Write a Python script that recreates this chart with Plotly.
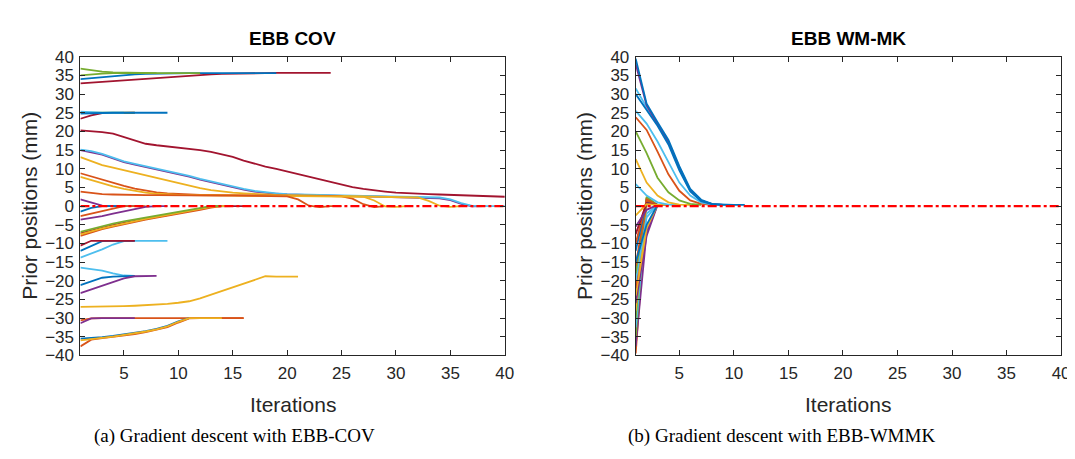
import plotly.graph_objects as go

# ---------------- DATA ----------------
# Panel (a): EBB COV - prior position trajectories (mm), iteration index starts at 1
cov_g_top = [36.8, 36.3, 36.0, 35.8, 35.7, 35.6, 35.6, 35.6, 35.6, 35.6, 35.6, 35.6]
cov_g_35 = [35.0, 35.3, 35.5, 35.6, 35.6, 35.6, 35.6, 35.6]
cov_b_34 = [34.0, 34.3, 34.6, 34.9, 35.1, 35.3, 35.4, 35.5, 35.6, 35.6, 35.6, 35.6, 35.6,
            35.6, 35.6, 35.6, 35.6, 35.6, 35.6]
cov_r_33 = [32.9, 33.1, 33.3, 33.5, 33.8, 34.0, 34.2, 34.4, 34.6, 34.7, 34.9, 35.1, 35.3,
            35.4, 35.5, 35.6, 35.7, 35.7, 35.7, 35.7, 35.7, 35.7, 35.7, 35.7]
cov_l_25 = [25.3, 25.1, 25.0, 25.0, 25.0]
cov_g_25 = [25.0, 25.0, 25.0, 25.0, 25.0, 25.0]
cov_r_23 = [23.4, 24.3, 24.9, 25.0, 25.0, 25.0]
cov_b_25 = [24.8, 24.9, 25.0, 25.0, 25.0, 25.0, 25.0, 25.0, 25.0]
cov_r_20 = [20.3, 20.1, 19.8, 19.4, 18.5, 17.4, 16.7, 16.3, 16.0, 15.7, 15.4, 15.0, 14.5,
            13.9, 13.2, 12.2, 11.3, 10.6, 10.0, 9.3, 8.6, 7.8, 7.1, 6.4, 5.7, 5.1, 4.6,
            4.2, 3.9, 3.6, 3.4, 3.3, 3.2, 3.1, 3.0, 2.9, 2.8, 2.7, 2.6, 2.5]
cov_p_15 = [15.0, 14.5, 13.8, 12.8, 11.8, 11.1, 10.5, 9.9, 9.3, 8.6, 7.9, 7.1, 6.4, 5.7,
            5.0, 4.4, 3.9, 3.5, 3.3, 3.1, 3.0, 2.9, 2.85, 2.8, 2.75, 2.7, 2.65, 2.6, 2.55,
            2.5, 2.45, 2.4, 2.3, 2.1, 1.6, 0.6, -0.1, 0.0]
cov_l_15 = [15.1, 14.7, 14.0, 13.0, 12.0, 11.3, 10.7, 10.1, 9.5, 8.8, 8.1, 7.3, 6.6, 5.9,
            5.2, 4.6, 4.1, 3.7, 3.4, 3.2, 3.1, 3.0, 2.95, 2.9, 2.85, 2.8, 2.75, 2.7, 2.65,
            2.6, 2.55, 2.5, 2.45, 2.3, 1.8, 0.8, 0.05, 0.0, 0.0, 0.0]
cov_y_13 = [13.1, 12.0, 11.0, 10.3, 9.6, 8.9, 8.2, 7.5, 6.8, 6.1, 5.4, 4.8, 4.3, 3.9, 3.6,
            3.4, 3.2, 3.1, 3.0, 2.95, 2.9, 2.85, 2.8, 2.8, 2.75, 2.75, 2.7, 2.7, 2.65,
            2.6, 2.5, 2.3, 1.4, 0.1, -0.2, 0.0]
cov_o_9 = [8.8, 7.9, 7.0, 6.1, 5.4, 4.7, 4.1, 3.7, 3.4, 3.2, 3.1, 3.0, 3.0, 2.95, 2.9,
           2.9, 2.85, 2.85, 2.8, 2.8, 2.75, 2.75, 2.7, 2.7, 2.6, 2.0, 0.5, -0.3, 0.0]
cov_y_8 = [7.8, 6.9, 6.1, 5.3, 4.6, 4.0, 3.6, 3.3, 3.1, 3.0, 2.95, 2.9, 2.9, 2.85, 2.85,
           2.8, 2.8, 2.75, 2.75, 2.7, 2.7, 2.7, 2.65, 2.65, 2.6, 2.6, 2.5, 1.5, -0.1,
           -0.2, 0.0]
cov_o_4 = [3.9, 3.5, 3.2, 3.1, 3.0, 3.0, 2.95, 2.95, 2.9, 2.9, 2.9, 2.85, 2.85, 2.8, 2.8,
           2.8, 2.75, 2.75, 2.7, 2.6, 1.8, 0.1, -0.3, 0.0, 0.0]
cov_p_2 = [1.8, 0.9, 0.1, 0.0, 0.0]
cov_b_m1 = [-1.5, -0.5, 0.0, 0.0, 0.0, 0.0]
cov_o_m2 = [-2.7, -2.0, -1.3, -0.5, 0.0, 0.0, 0.0]
cov_p_m4 = [-3.6, -3.2, -2.7, -2.0, -1.4, -0.8, -0.2, 0.0, 0.0]
cov_r_m7 = [-7.3, -6.5, -5.8, -5.1, -4.5, -3.9, -3.4, -2.9, -2.4, -1.9, -1.3, -0.7, -0.1,
            0.0, 0.0, 0.0]
cov_g_m7 = [-6.9, -6.1, -5.4, -4.7, -4.1, -3.6, -3.1, -2.6, -2.1, -1.6, -1.1, -0.5, 0.0,
            0.0]
cov_o_m8 = [-8.0, -7.0, -6.2, -5.5, -4.8, -4.2, -3.6, -3.1, -2.6, -2.1, -1.6, -1.0, -0.4,
            0.0]
cov_y_m8 = [-7.6, -6.7, -6.0, -5.3, -4.6, -4.0, -3.4, -2.9, -2.4, -1.9, -1.4, -0.8, -0.2,
            0.0, 0.0]
cov_l_m14 = [-13.8, -12.8, -11.6, -10.3, -9.4, -9.3, -9.3, -9.3, -9.3]
cov_b_m12 = [-12.0, -10.6, -9.4, -9.3, -9.3, -9.3]
cov_r_m10 = [-10.6, -9.3, -9.3, -9.3, -9.3, -9.3]
cov_l_m16 = [-16.5, -16.8, -17.3, -18.0, -18.6, -18.7]
cov_b_m21 = [-21.2, -20.1, -19.2, -18.9, -18.7, -18.7]
cov_p_m23 = [-23.3, -22.3, -21.3, -20.3, -19.4, -18.8, -18.7, -18.7]
cov_y_m27 = [-27.0, -27.0, -26.95, -26.9, -26.8, -26.7, -26.6, -26.4, -26.2, -25.9, -25.5,
             -24.7, -23.7, -22.8, -21.8, -20.8, -19.8, -18.8, -18.9, -18.9, -18.9]
cov_o_m30 = [-30.6, -30.1, -30.0, -30.0, -30.0, -30.0, -30.0, -30.0, -30.0, -30.0, -30.0,
             -30.0, -30.0, -30.0, -30.0, -30.0]
cov_p_m31 = [-31.4, -30.1, -30.0, -30.0, -30.0, -30.0]
cov_b_m35 = [-35.5, -35.4, -35.1, -34.8, -34.4, -34.0, -33.5, -32.9, -32.1, -30.9, -30.0]
cov_o_m37 = [-37.6, -35.8, -35.4, -35.1, -34.7, -34.3, -33.8, -33.2, -32.4, -31.2, -30.1,
             -30.0, -30.0, -30.0, -30.0, -30.0]
cov_y_m36 = [-36.0, -35.6, -35.3, -35.0, -34.6, -34.1, -33.6, -33.0, -32.2, -31.0, -30.0,
             -30.0, -30.0, -30.0]

# Panel (b): EBB WM-MK - prior position trajectories (mm)
wm_b_39 = [39.5, 27.4, 22.5, 17.7, 10.7, 4.6, 1.7, 0.6, 0.3, 0.3, 0.3]
wm_p_38 = [38.0, 27.0, 22.0, 17.2, 10.2, 4.3, 1.5, 0.5, 0.3]
wm_l_31 = [31.5, 26.5, 22.0, 17.0, 10.2, 4.2, 1.5, 0.5, 0.3]
wm_b_30 = [30.0, 25.6, 21.5, 16.5, 9.6, 3.9, 1.3, 0.5, 0.3, 0.3]
wm_l_25 = [25.5, 22.1, 17.3, 12.0, 6.3, 2.8, 1.0, 0.4, 0.3]
wm_o_24 = [23.8, 20.4, 14.6, 8.5, 4.1, 1.5, 0.6, 0.3]
wm_g_20 = [20.0, 14.2, 7.6, 3.7, 1.5, 0.6, 0.3]
wm_y_13 = [12.6, 6.3, 2.8, 1.0, 0.4, 0.3]
wm_l_6 = [5.9, 2.8, 1.0, 0.4, 0.3]
wm_y_m3 = [-2.5, 0.5, 0.3, 0.3]
wm_p_m6 = [-5.5, -1.0, 0.3, 0.3]
wm_r_m8 = [-7.5, 0.8, 0.3, 0.3]
wm_o_m10 = [-10.0, 1.5, 0.3, 0.3]
wm_b_m12 = [-12.0, 1.2, 0.3, 0.3]
wm_b_m15 = [-15.0, -5.0, 0.3, 0.3]
wm_o_m16 = [-16.0, 1.8, 0.3]
wm_g_m18 = [-18.0, 2.0, 0.3]
wm_l_m20 = [-20.0, -3.0, 0.3]
wm_o_m22 = [-22.0, 1.5, 0.3]
wm_y_m24 = [-24.0, -6.0, 0.3]
wm_p_m26 = [-26.0, -8.0, 0.3]
wm_y_m28 = [-28.0, 1.0, 0.3]
wm_g_m30 = [-30.0, 2.5, 0.3]
wm_l_m33 = [-32.5, -2.0, 0.3]
wm_g_m35 = [-35.0, 1.8, 0.3]
wm_p_m38 = [-37.5, -7.0, 0.3]
wm_o_m40 = [-39.5, 1.0, 0.3]

# Target (reference) line
target_x = [1, 40]
target_y = [0, 0]

x_ticks = [5, 10, 15, 20, 25, 30, 35, 40]
y_ticks = list(range(-40, 45, 5))

# ---------------- STYLE ----------------
BLUE, ORANGE, YELLOW = "#0072BD", "#D95319", "#EDB120"
PURPLE, GREEN, LBLUE, DRED = "#7E2F8E", "#77AC30", "#4DBEEE", "#A2142F"

cov_traces = [
    (cov_r_33, DRED), (cov_b_34, BLUE), (cov_g_35, GREEN), (cov_g_top, GREEN),
    (cov_r_23, DRED), (cov_g_25, GREEN), (cov_l_25, LBLUE), (cov_b_25, BLUE),
    (cov_r_20, DRED), (cov_p_15, PURPLE), (cov_l_15, LBLUE), (cov_y_13, YELLOW),
    (cov_o_9, ORANGE), (cov_y_8, YELLOW), (cov_o_4, ORANGE),
    (cov_p_2, PURPLE), (cov_b_m1, BLUE), (cov_o_m2, ORANGE), (cov_p_m4, PURPLE),
    (cov_r_m7, DRED), (cov_o_m8, ORANGE), (cov_y_m8, YELLOW), (cov_g_m7, GREEN),
    (cov_l_m14, LBLUE), (cov_b_m12, BLUE), (cov_r_m10, DRED),
    (cov_l_m16, LBLUE), (cov_b_m21, BLUE), (cov_p_m23, PURPLE), (cov_y_m27, YELLOW),
    (cov_o_m30, ORANGE), (cov_p_m31, PURPLE), (cov_b_m35, BLUE), (cov_o_m37, ORANGE),
    (cov_y_m36, YELLOW),
]
wm_traces = [
    (wm_o_m40, ORANGE), (wm_p_m38, PURPLE), (wm_g_m35, GREEN), (wm_l_m33, LBLUE),
    (wm_g_m30, GREEN), (wm_y_m28, YELLOW), (wm_p_m26, PURPLE), (wm_y_m24, YELLOW),
    (wm_o_m22, ORANGE), (wm_l_m20, LBLUE), (wm_g_m18, GREEN), (wm_o_m16, ORANGE),
    (wm_b_m15, BLUE), (wm_b_m12, BLUE), (wm_o_m10, ORANGE), (wm_r_m8, DRED),
    (wm_p_m6, PURPLE), (wm_y_m3, YELLOW),
    (wm_l_6, LBLUE), (wm_y_13, YELLOW), (wm_g_20, GREEN), (wm_o_24, ORANGE),
    (wm_l_25, LBLUE), (wm_l_31, LBLUE), (wm_p_38, PURPLE), (wm_b_30, BLUE),
    (wm_b_39, BLUE),
]

W, H = 1075, 459
fig = go.Figure()

LW = 1.8
for vals, col in cov_traces:
    fig.add_trace(go.Scatter(x=list(range(1, len(vals) + 1)), y=vals, mode="lines",
                             line=dict(color=col, width=LW), xaxis="x", yaxis="y",
                             showlegend=False, hoverinfo="skip"))
fig.add_trace(go.Scatter(x=target_x, y=target_y, mode="lines",
                         line=dict(color="#FF0000", width=2.2, dash="dashdot"),
                         xaxis="x", yaxis="y", showlegend=False))
for vals, col in wm_traces:
    fig.add_trace(go.Scatter(x=list(range(1, len(vals) + 1)), y=vals, mode="lines",
                             line=dict(color=col, width=LW), xaxis="x2", yaxis="y2",
                             showlegend=False, hoverinfo="skip"))
fig.add_trace(go.Scatter(x=target_x, y=target_y, mode="lines",
                         line=dict(color="#FF0000", width=2.2, dash="dashdot"),
                         xaxis="x2", yaxis="y2", showlegend=False))

AX = "#262626"
tickfont = dict(family="Liberation Sans, Arial, sans-serif", size=17, color=AX)
common_x = dict(range=[1, 40], tickvals=x_ticks, ticks="inside", ticklen=5,
                tickcolor=AX, showline=True, linecolor=AX, linewidth=1,
                mirror="ticks", showgrid=False, zeroline=False, tickfont=tickfont,
                ticklabelstandoff=2)
common_y = dict(range=[-40, 40], tickvals=y_ticks, ticks="inside", ticklen=5,
                tickcolor=AX, showline=True, linecolor=AX, linewidth=1,
                mirror="ticks", showgrid=False, zeroline=False, tickfont=tickfont,
                ticklabelstandoff=2)

L0, L1 = 73 / W, 501 / W
R0, R1 = 633 / W, 1062 / W
B0, T0 = 1 - 353 / H, 1 - 41.5 / H

fig.update_layout(
    width=W, height=H,
    margin=dict(l=0, r=0, t=0, b=0),
    paper_bgcolor="white", plot_bgcolor="white",
    xaxis=dict(domain=[L0, L1], anchor="y", **common_x),
    yaxis=dict(domain=[B0, T0], anchor="x", **common_y),
    xaxis2=dict(domain=[R0, R1], anchor="y2", **common_x),
    yaxis2=dict(domain=[B0, T0], anchor="x2", **common_y),
)

sans = "Liberation Sans, Arial, sans-serif"
serif = "Liberation Serif, Times New Roman, serif"
ann = []
for cx, title, caption, capx, ylx in [
    ((73 + 501) / 2, "<b>EBB COV</b>", "(a) Gradient descent with EBB-COV", 228, 22),
    ((633 + 1062) / 2, "<b>EBB WM-MK</b>", "(b) Gradient descent with EBB-WMMK", 780, 582),
]:
    ann.append(dict(x=cx / W, y=1 - 22 / H, xref="paper", yref="paper", text=title,
                    showarrow=False, font=dict(family=sans, size=19, color="#000000"),
                    xanchor="center", yanchor="middle"))
    ann.append(dict(x=cx / W, y=1 - 404 / H, xref="paper", yref="paper",
                    text="Iterations", showarrow=False,
                    font=dict(family=sans, size=21, color=AX),
                    xanchor="center", yanchor="middle"))
    ann.append(dict(x=ylx / W, y=1 - 197 / H, xref="paper", yref="paper",
                    text="Prior positions (mm)", textangle=-90, showarrow=False,
                    font=dict(family=sans, size=21, color=AX),
                    xanchor="center", yanchor="middle"))
    ann.append(dict(x=capx / W, y=1 - 437 / H, xref="paper", yref="paper",
                    text=caption, showarrow=False,
                    font=dict(family=serif, size=19, color="#000000"),
                    xanchor="center", yanchor="middle"))
fig.update_layout(annotations=ann)

fig.write_html("out.html")
